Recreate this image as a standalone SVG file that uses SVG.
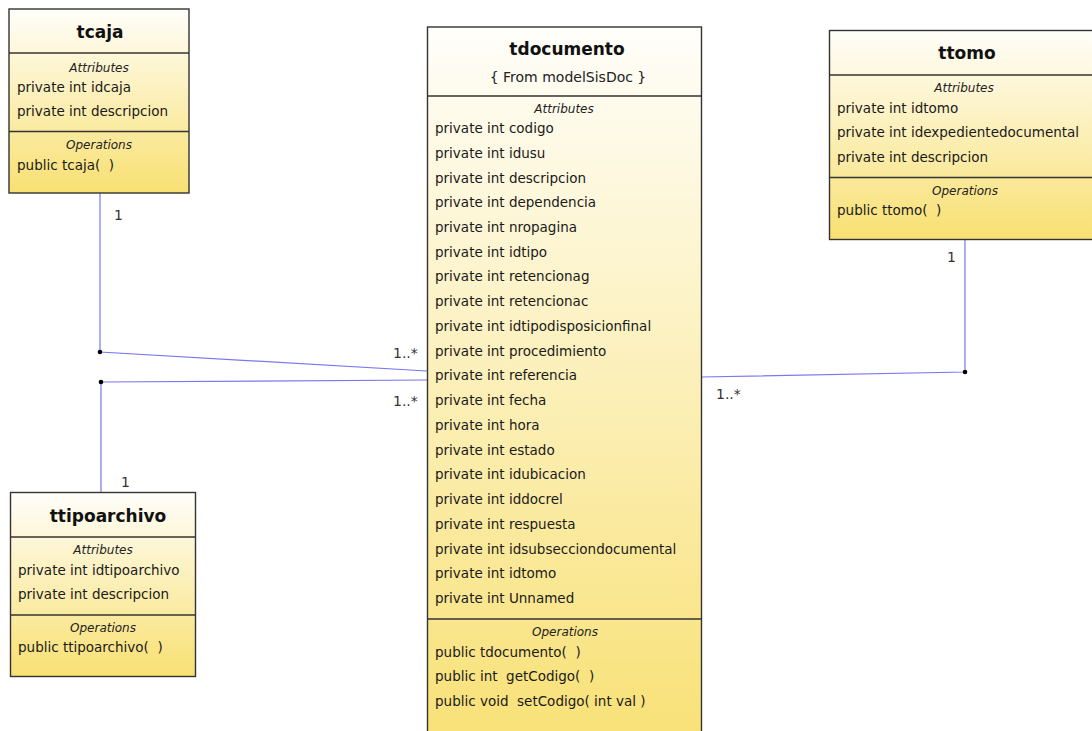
<svg xmlns="http://www.w3.org/2000/svg" width="1092" height="731" viewBox="0 0 1092 731">
<style>
.box{stroke:#333;stroke-width:1.4;fill:url(#g)}
.div{stroke:#333;stroke-width:1.4}
.title{font-family:"DejaVu Sans",sans-serif;font-weight:bold;font-size:17px;fill:#111;text-anchor:middle}
.sub{font-family:"DejaVu Sans",sans-serif;font-size:14px;fill:#222;text-anchor:middle}
.sec{font-family:"DejaVu Sans",sans-serif;font-style:italic;font-size:12px;fill:#222;text-anchor:middle}
.m{font-family:"DejaVu Sans",sans-serif;font-size:13.5px;fill:#1a1a1a;white-space:pre}
.conn{stroke:#7878f2;stroke-width:1.2;fill:none}
.lbl{font-family:"DejaVu Sans",sans-serif;font-size:14px;fill:#333}
</style>
<defs>
<linearGradient id="g" x1="0" y1="0" x2="0" y2="1">
<stop offset="0" stop-color="#fffefa"/>
<stop offset="1" stop-color="#f8e072"/>
</linearGradient>
</defs>
<rect width="1092" height="731" fill="#fff"/>
<g id="connectors">
<polyline class="conn" points="100,193 100,352 427,371"/>
<polyline class="conn" points="101,492 101,382 427,380"/>
<polyline class="conn" points="965,239 965,372 701,377"/>
<circle cx="100" cy="352" r="2.3" fill="#000"/>
<circle cx="101" cy="382" r="2.3" fill="#000"/>
<circle cx="965" cy="372" r="2.3" fill="#000"/>
<text class="lbl" x="114" y="220">1</text>
<text class="lbl" x="393" y="358">1..*</text>
<text class="lbl" x="121" y="487">1</text>
<text class="lbl" x="393" y="406">1..*</text>
<text class="lbl" x="947" y="262">1</text>
<text class="lbl" x="716" y="399">1..*</text>
</g>
<g id="tcaja">
<rect class="box" x="9" y="9" width="180" height="184"/>
<line class="div" x1="9" y1="53" x2="189" y2="53"/>
<line class="div" x1="9" y1="131.5" x2="189" y2="131.5"/>
<text class="title" x="100" y="38">tcaja</text>
<text class="sec" x="99" y="71.5">Attributes</text>
<text class="m" x="17" y="91.5">private int idcaja</text>
<text class="m" x="17" y="116">private int descripcion</text>
<text class="sec" x="99" y="149">Operations</text>
<text class="m" x="17" y="169.5">public tcaja(  )</text>
</g>
<g id="tdocumento">
<rect class="box" x="427.5" y="27" width="274" height="740"/>
<line class="div" x1="427.5" y1="96" x2="701.5" y2="96"/>
<line class="div" x1="427.5" y1="619" x2="701.5" y2="619"/>
<text class="title" x="567" y="55">tdocumento</text>
<text class="sub" x="568" y="81.5">{ From modelSisDoc }</text>
<text class="sec" x="564" y="112.5">Attributes</text>
<text class="m" x="435" y="133">private int codigo</text>
<text class="m" x="435" y="157.7">private int idusu</text>
<text class="m" x="435" y="182.5">private int descripcion</text>
<text class="m" x="435" y="207.2">private int dependencia</text>
<text class="m" x="435" y="232">private int nropagina</text>
<text class="m" x="435" y="256.7">private int idtipo</text>
<text class="m" x="435" y="281.4">private int retencionag</text>
<text class="m" x="435" y="306.2">private int retencionac</text>
<text class="m" x="435" y="330.9">private int idtipodisposicionfinal</text>
<text class="m" x="435" y="355.7">private int procedimiento</text>
<text class="m" x="435" y="380.4">private int referencia</text>
<text class="m" x="435" y="405.1">private int fecha</text>
<text class="m" x="435" y="429.9">private int hora</text>
<text class="m" x="435" y="454.6">private int estado</text>
<text class="m" x="435" y="479.4">private int idubicacion</text>
<text class="m" x="435" y="504.1">private int iddocrel</text>
<text class="m" x="435" y="528.8">private int respuesta</text>
<text class="m" x="435" y="553.6">private int idsubsecciondocumental</text>
<text class="m" x="435" y="578.3">private int idtomo</text>
<text class="m" x="435" y="603">private int Unnamed</text>
<text class="sec" x="565" y="636">Operations</text>
<text class="m" x="435" y="656.5">public tdocumento(  )</text>
<text class="m" x="435" y="681.2">public int  getCodigo(  )</text>
<text class="m" x="435" y="706">public void  setCodigo( int val )</text>
</g>
<g id="ttomo">
<rect class="box" x="829.5" y="30.5" width="272" height="209"/>
<line class="div" x1="829.5" y1="75" x2="1101.5" y2="75"/>
<line class="div" x1="829.5" y1="177.5" x2="1101.5" y2="177.5"/>
<text class="title" x="967" y="59">ttomo</text>
<text class="sec" x="964" y="91.5">Attributes</text>
<text class="m" x="837" y="112.5">private int idtomo</text>
<text class="m" x="837" y="137">private int idexpedientedocumental</text>
<text class="m" x="837" y="161.5">private int descripcion</text>
<text class="sec" x="965" y="195">Operations</text>
<text class="m" x="837" y="215">public ttomo(  )</text>
</g>
<g id="ttipoarchivo">
<rect class="box" x="10.5" y="492.5" width="185" height="184"/>
<line class="div" x1="10.5" y1="537" x2="195.5" y2="537"/>
<line class="div" x1="10.5" y1="615" x2="195.5" y2="615"/>
<text class="title" x="108" y="521.5">ttipoarchivo</text>
<text class="sec" x="103" y="554">Attributes</text>
<text class="m" x="18" y="574.5">private int idtipoarchivo</text>
<text class="m" x="18" y="599">private int descripcion</text>
<text class="sec" x="103" y="632">Operations</text>
<text class="m" x="18" y="652">public ttipoarchivo(  )</text>
</g>
</svg>
